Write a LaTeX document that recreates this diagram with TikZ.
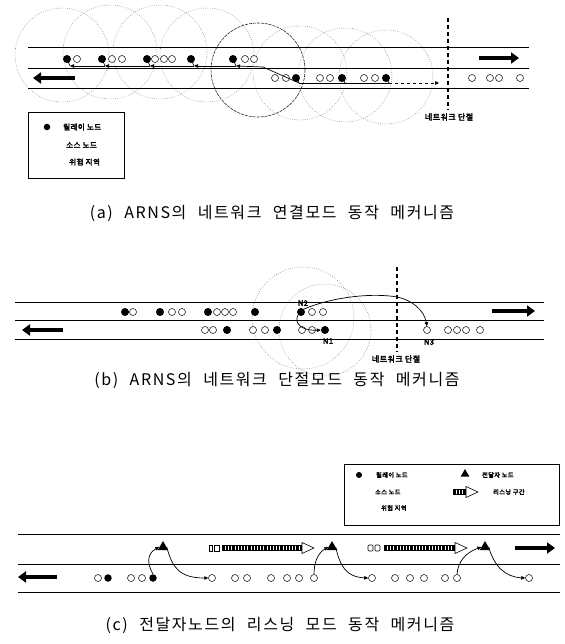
\documentclass[tikz,border=0pt]{standalone}
\usepackage{fontspec}
\usetikzlibrary{arrows.meta,shapes.geometric}
\newfontfamily\lblfont[LetterSpace=6,FakeBold=3.5]{Noto Sans CJK KR}
\newfontfamily\capfont[LetterSpace=10,WordSpace=2.2]{Noto Sans CJK KR}
\newcommand\lsnarrow[3]{%
  \fill (#1,#3-3) rectangle (#2,#3+3);
  \pgfmathtruncatemacro\nstripes{(#2-#1)/3.2-1}
  \foreach \k in {1,...,\nstripes}{\draw[white,line width=0.6pt] (#1+\k*3.2,#3-2.2) -- (#1+\k*3.2,#3+2.2);}
  \draw[line width=0.6pt,fill=white] (#2,#3-5.5) -- (#2+12,#3) -- (#2,#3+5.5) -- cycle;}
\begin{document}
\begin{tikzpicture}[x=1pt,y=-1pt,
  relay/.style={circle,fill=black,inner sep=0pt,minimum size=8pt},
  src/.style={circle,draw=black,fill=white,line width=0.5pt,inner sep=0pt,minimum size=7pt},
  fwd/.style={regular polygon,regular polygon sides=3,fill=black,inner sep=0pt,minimum size=12pt},
  txrange/.style={draw=black!55,line width=0.5pt,dash pattern=on 0.6pt off 1.6pt},
  darkrange/.style={draw=black!85,line width=0.6pt,dash pattern=on 3pt off 1pt},
  roadline/.style={line width=0.9pt},
  fatarrow/.style={line width=4.5pt,-{Triangle[length=8pt,width=11pt]}},
  route/.style={line width=0.7pt,-{Triangle[length=4pt,width=3.5pt]}},
  plainline/.style={line width=0.7pt},
  cutline/.style={line width=1.3pt,dash pattern=on 4pt off 3pt},
  lbl/.style={font=\lblfont\fontsize{8}{9}\selectfont,inner sep=0pt},
  legtext/.style={font=\lblfont\fontsize{7.5}{9}\selectfont,inner sep=0pt,anchor=west},
  legstext/.style={font=\lblfont\fontsize{6.2}{7}\selectfont,inner sep=0pt,anchor=west},
  nlbl/.style={font=\lblfont\fontsize{7.5}{8}\selectfont,inner sep=0pt},
  captext/.style={font=\capfont\fontsize{16}{18}\selectfont,inner sep=0pt},
  legbox/.style={draw,line width=0.7pt,inner sep=0pt}]
\useasboundingbox (0,0) rectangle (564,644);
\fill[white] (0,0) rectangle (564,644);

%================ (a) =================
\foreach \cx/\cy in {62/55,110/52,160/52,207/55,300/73,345/75,386/77}
  \draw[txrange] (\cx,\cy) circle[radius=47pt];
\draw[darkrange] (258,70) circle[radius=47pt];
\draw[roadline] (28,47) -- (529,47);
\draw[roadline] (28,68) -- (529,68);
\draw[roadline] (28,88) -- (529,88);
\coordinate (aLA1) at (75,78); \coordinate (aLA2) at (33,78);
\draw[fatarrow] (aLA1) -- (aLA2);
\coordinate (aRA1) at (479,58); \coordinate (aRA2) at (519,58);
\draw[fatarrow] (aRA1) -- (aRA2);

\foreach \n/\x in {aR1/67,aR2/102,aR3/147,aR4/191,aR5/233}
  \node[relay] (\n) at (\x,59) {};
\foreach \x [count=\i] in {77,112,122,155,164,172,245,254}
  \node[src] (aS\i) at (\x,59) {};
\foreach \n/\x in {aR6/296,aR7/342,aR8/386}
  \node[relay] (\n) at (\x,78) {};
\foreach \x [count=\i from 10] in {275,286,320,330,364,375,472,490,499,520}
  \node[src] (aS\i) at (\x,78) {};

% tails of relays
\foreach \n in {aR1,aR2,aR3,aR4,aR5}
  \draw[plainline] (\n.center) -- ([xshift=3pt,yshift=-7pt]\n.center) coordinate (\n t);
\foreach \n in {aR6,aR7,aR8}
  \draw[plainline] (\n.center) -- ([xshift=3pt,yshift=-5pt]\n.center) coordinate (\n t);
\draw[plainline] (aR8t) -- (aR7t);
\draw[plainline] (aR7t) -- (aR6t);
\coordinate (aK) at (263,67);
\draw[route] (aR6t) -- (aK) -- (aR5t);
\draw[route] (aR5t) -- (aR4t);
\draw[route] (aR4t) -- (aR3t);
\draw[route] (aR3t) -- (aR2t);
\draw[route] (aR2t) -- (aR1t);
\coordinate (aDE) at (439,83);
\draw[route,dashed] (aR8t) -- (aDE);

\coordinate (aCutT) at (448,18); \coordinate (aCutB) at (448,110);
\draw[cutline] (aCutT) -- (aCutB);
\node[lbl] (aCutL) at (449,117) {네트워크 단절};

\node[legbox,minimum width=96pt,minimum height=66pt] (aLeg) at (76,145) {};
\node[relay,minimum size=6.5pt] (aLd) at (47,127) {};
\node[legtext] (aL1) at (63,127) {릴레이 노드};
\node[legtext] (aL2) at (66,145) {소스 노드};
\node[legtext] (aL3) at (69,162) {위험 지역};

\node[captext] (aCap) at (272,213) {(a) ARNS의 네트워크 연결모드 동작 메커니즘};

%================ (b) =================
\draw[txrange] (303,318) circle[radius=51pt];
\draw[txrange] (325,330) circle[radius=46pt];
\draw[roadline] (15,302) -- (544,302);
\draw[roadline] (15,320) -- (544,320);
\draw[roadline] (15,339) -- (544,339);
\coordinate (bLA1) at (63,330); \coordinate (bLA2) at (22,330);
\draw[fatarrow] (bLA1) -- (bLA2);
\coordinate (bRA1) at (492,311); \coordinate (bRA2) at (535,311);
\draw[fatarrow] (bRA1) -- (bRA2);

\foreach \n/\x in {bR1/125,bR2/160,bR3/208,bR4/255}
  \node[relay] (\n) at (\x,312) {};
\foreach \x [count=\i] in {133,172,182,217,225,233,312,323}
  \node[src] (bS\i) at (\x,312) {};
\node[relay] (bN2) at (301,312) {};
\foreach \n/\x in {bR5/227,bR6/277}
  \node[relay] (\n) at (\x,330) {};
\foreach \x [count=\i from 10] in {205,213,253,265,302,312,448,457,466,480}
  \node[src] (bS\i) at (\x,330) {};
\node[relay] (bN1) at (325,330) {};
\node[src] (bN3) at (427,330) {};
\node[nlbl] (bN2l) at (303,303) {N2};
\node[nlbl] (bN1l) at (328,341) {N1};
\node[nlbl] (bN3l) at (429,342) {N3};

\draw[route] (bN2.north east) .. controls (335,296) and (375,293) .. (397,297)
  .. controls (412,300) and (424,310) .. (bN3.north);
\draw[route] (bN2.south west) .. controls (294,322) and (300,331) .. (bN1.west);

\coordinate (bCutT) at (397,267); \coordinate (bCutB) at (397,352);
\draw[cutline] (bCutT) -- (bCutB);
\node[lbl] (bCutL) at (396,359) {네트워크 단절};

\node[captext] (bCap) at (277,380) {(b) ARNS의 네트워크 단절모드 동작 메커니즘};

%================ (c) =================
\node[legbox,minimum width=215pt,minimum height=61pt] (cLeg) at (451.5,494.5) {};
\node[relay,minimum size=6pt] (cLd) at (359,475) {};
\node[legstext] (cL1) at (376,475) {릴레이 노드};
\node[fwd,minimum size=10pt] (cLt) at (465,474) {};
\node[legstext] (cL2) at (482,475) {전달자 노드};
\node[legstext] (cL3) at (375,492) {소스 노드};
\lsnarrow{453}{466}{492}
\node[legstext] (cL4) at (493,492) {리스닝 구간};
\node[legstext] (cL5) at (381,508) {위험 지역};

\draw[roadline] (18,534) -- (560,534);
\draw[roadline] (18,564) -- (560,564);
\draw[roadline] (18,592) -- (560,592);
\coordinate (cLA1) at (57,577); \coordinate (cLA2) at (18,577);
\draw[fatarrow] (cLA1) -- (cLA2);
\coordinate (cRA1) at (515,548); \coordinate (cRA2) at (555,548);
\draw[fatarrow] (cRA1) -- (cRA2);

% listening arrows
\draw[line width=0.6pt] (209,545) rectangle (212,551);
\draw[line width=0.6pt] (214,545) rectangle (219,551);
\lsnarrow{222}{302}{548}
\draw[line width=0.6pt,rounded corners=1pt] (368,545) rectangle (373,551);
\draw[line width=0.6pt,rounded corners=1pt] (375,545) rectangle (380,551);
\lsnarrow{384}{455}{548}

\foreach \n/\x in {cR1/108,cR2/153}
  \node[relay,minimum size=7.5pt] (\n) at (\x,578) {};
\foreach \n/\x in {cS1/98,cS2/131,cS3/142,cS4/212,cS5/235,cS6/247,cS7/271,cS8/287,cS9/299,cS10/314,cS11/372,cS12/395,cS13/410,cS14/424,cS15/445,cS16/457,cS17/529}
  \node[src] (\n) at (\x,578) {};
\node[fwd] (cT1) at (163,547) {};
\node[fwd] (cT2) at (332,547) {};
\node[fwd] (cT3) at (485,547) {};

\draw[route] (cR2.north) .. controls (146,562) and (148,553) .. (cT1.west);
\draw[route] (cT1.east) .. controls (172,566) and (178,578) .. (cS4.west);
\draw[route] (cS10.north) .. controls (314,562) and (318,553) .. (cT2.west);
\draw[route] (cT2.east) .. controls (340,566) and (346,577) .. (cS11.west);
\draw[route] (cS16.north) .. controls (458,562) and (465,553) .. (cT3.west);
\draw[route] (cT3.east) .. controls (494,566) and (505,577) .. (cS17.west);

\node[captext] (cCap) at (280,625) {(c) 전달자노드의 리스닝 모드 동작 메커니즘};
\end{tikzpicture}
\end{document}
